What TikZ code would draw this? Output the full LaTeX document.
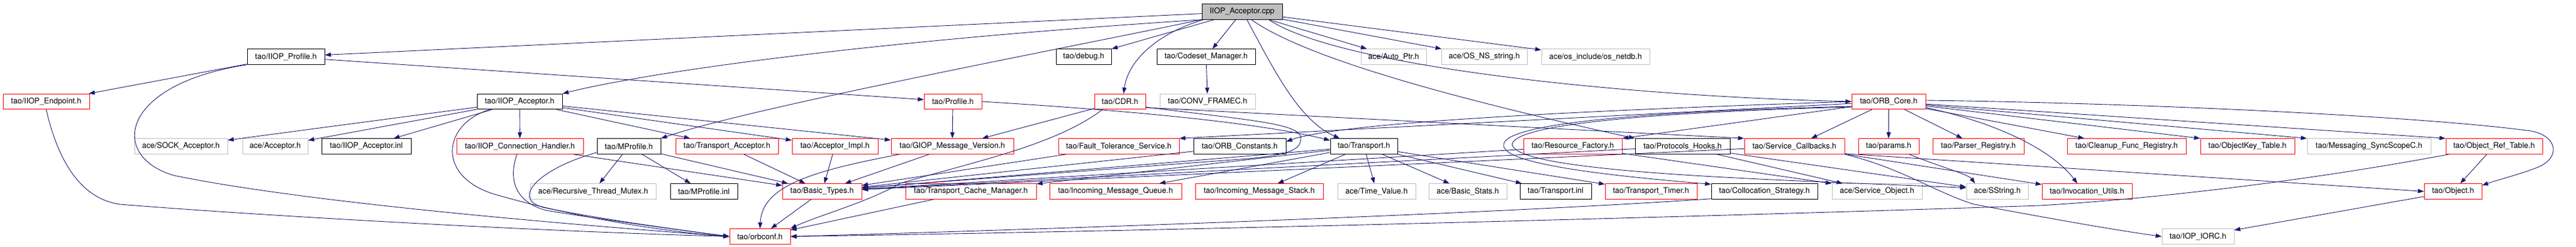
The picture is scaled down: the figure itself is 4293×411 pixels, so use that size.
\documentclass[tikz,border=0pt]{standalone}
\usepackage{fontspec}
\setmainfont{TeX Gyre Heros}
\usetikzlibrary{arrows.meta}
\usetikzlibrary{calc}
\definecolor{edgeBlue}{RGB}{25,25,112}
\definecolor{boxGray}{RGB}{191,191,191}
%% A file box: style, name, left, right, row, label.
\newcommand{\fileNode}[6]{%%
  \node[#1,minimum width={(#4-#3)*1pt}] (#2) at ({(#3+#4)/2},#5) {#6};
}
\begin{document}
\begin{tikzpicture}[%%
  x=1pt,y=-1pt,%%
  fileStyle/.style={draw=black,line width=1pt,inner sep=0pt,minimum height=25.5pt,font=\fontsize{13}{15}\selectfont},%%
  mainStyle/.style={fileStyle,fill=boxGray},%%
  truncStyle/.style={fileStyle,draw=red},%%
  extStyle/.style={fileStyle,draw=boxGray},%%
  includeStyle/.style={draw=edgeBlue,line width=0.9pt,-{Triangle[length=10pt,width=7pt]}}
]
\useasboundingbox (0,0) rectangle (4293,411);
%%
%%
\pgfmathsetmacro{\rowTop}{19.5}
\pgfmathsetmacro{\rowOne}{94.5}
\pgfmathsetmacro{\rowTwo}{169}
\pgfmathsetmacro{\rowThree}{243.5}
\pgfmathsetmacro{\rowFour}{318.5}
\pgfmathsetmacro{\rowFive}{393.5}
%% The file itself.
\fileNode{mainStyle}{cppFile}{2003}{2137}{\rowTop}{IIOP\_Acceptor.cpp}
%% First level.
\fileNode{fileStyle}{iiopProfile}{412}{541}{\rowOne}{tao/IIOP\_Profile.h}
\fileNode{fileStyle}{debugH}{1760}{1852}{\rowOne}{tao/debug.h}
\fileNode{fileStyle}{codesetMgr}{1928}{2092}{\rowOne}{tao/Codeset\_Manager.h}
\fileNode{extStyle}{autoPtr}{2268}{2377}{\rowOne}{ace/Auto\_Ptr.h}
\fileNode{extStyle}{osNsString}{2402}{2545}{\rowOne}{ace/OS\_NS\_string.h}
\fileNode{extStyle}{osNetdb}{2569}{2749}{\rowOne}{ace/os\_include/os\_netdb.h}
%% Second level.
\fileNode{truncStyle}{iiopEndpoint}{5}{149}{\rowTwo}{tao/IIOP\_Endpoint.h}
\fileNode{fileStyle}{iiopAcceptor}{795}{937}{\rowTwo}{tao/IIOP\_Acceptor.h}
\fileNode{truncStyle}{profileH}{1540}{1636}{\rowTwo}{tao/Profile.h}
\fileNode{truncStyle}{cdrH}{1824}{1909}{\rowTwo}{tao/CDR.h}
\fileNode{extStyle}{convFramec}{1933}{2092}{\rowTwo}{tao/CONV\_FRAMEC.h}
\fileNode{truncStyle}{orbCore}{3086}{3209}{\rowTwo}{tao/ORB\_Core.h}
%% Third level.
\fileNode{extStyle}{sockAcceptor}{224}{379}{\rowThree}{ace/SOCK\_Acceptor.h}
\fileNode{extStyle}{aceAcceptor}{404}{513}{\rowThree}{ace/Acceptor.h}
\fileNode{fileStyle}{iiopAcceptorInl}{536}{685}{\rowThree}{tao/IIOP\_Acceptor.inl}
\fileNode{truncStyle}{iiopConnHandler}{761}{972}{\rowThree}{tao/IIOP\_Connection\_Handler.h}
\fileNode{fileStyle}{mProfile}{995}{1101}{\rowThree}{tao/MProfile.h}
\fileNode{truncStyle}{transportAcceptor}{1126}{1297}{\rowThree}{tao/Transport\_Acceptor.h}
\fileNode{truncStyle}{acceptorImpl}{1320}{1463}{\rowThree}{tao/Acceptor\_Impl.h}
\fileNode{truncStyle}{giopVersion}{1485}{1689}{\rowThree}{tao/GIOP\_Message\_Version.h}
\fileNode{truncStyle}{ftService}{1764}{1965}{\rowThree}{tao/Fault\_Tolerance\_Service.h}
\fileNode{fileStyle}{orbConstants}{1989}{2143}{\rowThree}{tao/ORB\_Constants.h}
\fileNode{fileStyle}{transportH}{2217}{2329}{\rowThree}{tao/Transport.h}
\fileNode{truncStyle}{resourceFactory}{2539}{2703}{\rowThree}{tao/Resource\_Factory.h}
\fileNode{fileStyle}{protocolsHooks}{2725}{2883}{\rowThree}{tao/Protocols\_Hooks.h}
\fileNode{truncStyle}{serviceCallbacks}{2907}{3074}{\rowThree}{tao/Service\_Callbacks.h}
\fileNode{truncStyle}{paramsH}{3097}{3198}{\rowThree}{tao/params.h}
\fileNode{truncStyle}{parserRegistry}{3221}{3373}{\rowThree}{tao/Parser\_Registry.h}
\fileNode{truncStyle}{cleanupRegistry}{3445}{3643}{\rowThree}{tao/Cleanup\_Func\_Registry.h}
\fileNode{truncStyle}{objectKeyTable}{3667}{3824}{\rowThree}{tao/ObjectKey\_Table.h}
\fileNode{extStyle}{syncScope}{3845}{4051}{\rowThree}{tao/Messaging\_SyncScopeC.h}
\fileNode{truncStyle}{objectRefTable}{4076}{4237}{\rowThree}{tao/Object\_Ref\_Table.h}
%% Fourth level.
\fileNode{extStyle}{recursiveMutex}{884}{1093}{\rowFour}{ace/Recursive\_Thread\_Mutex.h}
\fileNode{fileStyle}{mProfileInl}{1117}{1229}{\rowFour}{tao/MProfile.inl}
\fileNode{truncStyle}{basicTypes}{1304}{1436}{\rowFour}{tao/Basic\_Types.h}
\fileNode{truncStyle}{cacheManager}{1509}{1727}{\rowFour}{tao/Transport\_Cache\_Manager.h}
\fileNode{truncStyle}{msgQueue}{1749}{1969}{\rowFour}{tao/Incoming\_Message\_Queue.h}
\fileNode{truncStyle}{msgStack}{1992}{2205}{\rowFour}{tao/Incoming\_Message\_Stack.h}
\fileNode{extStyle}{timeValue}{2229}{2359}{\rowFour}{ace/Time\_Value.h}
\fileNode{extStyle}{basicStats}{2381}{2511}{\rowFour}{ace/Basic\_Stats.h}
\fileNode{fileStyle}{transportInl}{2533}{2652}{\rowFour}{tao/Transport.inl}
\fileNode{truncStyle}{transportTimer}{2675}{2828}{\rowFour}{tao/Transport\_Timer.h}
\fileNode{fileStyle}{collocStrategy}{2852}{3029}{\rowFour}{tao/Collocation\_Strategy.h}
\fileNode{extStyle}{serviceObject}{3053}{3203}{\rowFour}{ace/Service\_Object.h}
\fileNode{extStyle}{sString}{3277}{3380}{\rowFour}{ace/SString.h}
\fileNode{truncStyle}{invocationUtils}{3403}{3553}{\rowFour}{tao/Invocation\_Utils.h}
\fileNode{truncStyle}{objectH}{4040}{4136}{\rowFour}{tao/Object.h}
%% Bottom level.
\fileNode{truncStyle}{orbConf}{1216}{1317}{\rowFive}{tao/orbconf.h}
\fileNode{extStyle}{iopIorc}{3603}{3723}{\rowFive}{tao/IOP\_IORC.h}
%%
%%
%% Includes of the file itself.
\draw[includeStyle] (cppFile) -- (iiopProfile);
\draw[includeStyle] (cppFile.south west) .. controls (1450,68) and (1080,120) .. (iiopAcceptor.north east);
\draw[includeStyle] (cppFile.south west) .. controls (1700,95) and (1250,180) .. (mProfile.north east);
\draw[includeStyle] (cppFile) -- (debugH);
\draw[includeStyle] ($(cppFile.south west)+(3,0)$) .. controls (1930,55) and (1880,100) .. ($(cdrH.north)+(6,0)$);
\draw[includeStyle] (cppFile) -- (codesetMgr);
\draw[includeStyle] ($(cppFile.south)+(8,0)$) .. controls (2125,120) and (2165,200) .. ($(transportH.north west)+(16,0)$);
\draw[includeStyle] (cppFile) -- (autoPtr);
\draw[includeStyle] (cppFile) -- (osNsString);
\draw[includeStyle] (cppFile) -- (osNetdb);
\draw[includeStyle] ($(cppFile.south east)+(-23,0)$) .. controls (2230,110) and (2700,160) .. (orbCore.west);
\draw[includeStyle] ($(cppFile.south east)+(-52,0)$) .. controls (2180,100) and (2450,170) .. (protocolsHooks.north west);
%% IIOP profile and endpoint.
\draw[includeStyle] (iiopProfile) -- (iiopEndpoint);
\draw[includeStyle] (iiopProfile) -- (profileH);
\draw[includeStyle] (iiopProfile.south west) .. controls (200,140) and (180,260) .. (290,292) .. controls (500,335) and (900,370) .. (orbConf.west);
\draw[includeStyle] (iiopEndpoint.south) .. controls (95,260) and (130,330) .. (200,340) .. controls (450,360) and (900,385) .. (orbConf.west);
%% IIOP acceptor header.
\draw[includeStyle] (iiopAcceptor) -- (sockAcceptor);
\draw[includeStyle] (iiopAcceptor) -- (aceAcceptor);
\draw[includeStyle] (iiopAcceptor) -- (iiopAcceptorInl);
\draw[includeStyle] (iiopAcceptor) -- (iiopConnHandler);
\draw[includeStyle] ($(iiopAcceptor.south west)+(22,0)$) .. controls (740,205) and (725,290) .. (820,322) .. controls (950,360) and (1100,385) .. (orbConf.west);
\draw[includeStyle] (iiopAcceptor) -- (transportAcceptor);
\draw[includeStyle] (iiopAcceptor) -- (acceptorImpl);
\draw[includeStyle] (iiopAcceptor) -- (giopVersion);
\draw[includeStyle] (iiopConnHandler) -- (basicTypes);
\draw[includeStyle] ($(iiopConnHandler.south)+(-5,0)$) .. controls (848,295) and (855,335) .. (910,350) .. controls (1000,365) and (1150,385) .. (orbConf.west);
%% Multiple profiles.
\draw[includeStyle] (mProfile) -- (recursiveMutex);
\draw[includeStyle] (mProfile) -- (mProfileInl);
\draw[includeStyle] (mProfile) -- (basicTypes);
\draw[includeStyle] ($(mProfile.south west)+(0,-3)$) .. controls (900,280) and (850,330) .. (905,345) .. controls (1000,365) and (1150,385) .. (orbConf.west);
\draw[includeStyle] (transportAcceptor) -- (basicTypes);
\draw[includeStyle] (acceptorImpl) -- (basicTypes);
\draw[includeStyle] (giopVersion) -- (basicTypes);
\draw[includeStyle] ($(giopVersion.south west)+(15,0)$) .. controls (1350,285) and (1270,310) .. (orbConf.north);
%% Profile and CDR.
\draw[includeStyle] (profileH) -- (giopVersion);
\draw[includeStyle] (profileH.east) .. controls (1900,185) and (2100,205) .. ($(transportH.west)+(0,-10)$);
\draw[includeStyle] (cdrH) -- (giopVersion);
\draw[includeStyle] ($(cdrH.south west)+(14,0)$) .. controls (1760,240) and (1640,265) .. (1500,305) .. controls (1450,335) and (1360,360) .. (orbConf.north east);
\draw[includeStyle] ($(cdrH.south east)+(0,-4)$) .. controls (2080,200) and (2168,205) .. (2168,230) .. controls (2168,252) and (2140,258) .. (2080,264) .. controls (1800,285) and (1600,300) .. ($(basicTypes.east)+(0,-6)$);
\draw[includeStyle] ($(cdrH.east)+(0,10)$) -- (serviceCallbacks.north west);
\draw[includeStyle] (codesetMgr) -- (convFramec);
%% Into the basic types.
\draw[includeStyle] (ftService) -- (basicTypes);
\draw[includeStyle] (orbConstants) -- (basicTypes);
\draw[includeStyle] (transportH) -- (basicTypes);
\draw[includeStyle] (resourceFactory) -- (basicTypes);
\draw[includeStyle] (protocolsHooks) -- (basicTypes);
\draw[includeStyle] (serviceCallbacks) -- (basicTypes);
%% Transport.
\draw[includeStyle] (transportH) -- (cacheManager);
\draw[includeStyle] (transportH) -- (msgQueue);
\draw[includeStyle] (transportH) -- (msgStack);
\draw[includeStyle] (transportH) -- (timeValue);
\draw[includeStyle] (transportH) -- (basicStats);
\draw[includeStyle] (transportH) -- (transportInl);
\draw[includeStyle] (transportH) -- (transportTimer);
%% Factories, hooks and callbacks.
\draw[includeStyle] (resourceFactory) -- (serviceObject.north west);
\draw[includeStyle] (protocolsHooks) -- (serviceObject);
\draw[includeStyle] (protocolsHooks) -- (sString);
\draw[includeStyle] ($(serviceCallbacks.south east)+(0,-1)$) -- (objectH.west);
\draw[includeStyle] (serviceCallbacks.south east) .. controls (3170,280) and (3225,320) .. (3290,340) .. controls (3450,370) and (3540,385) .. (iopIorc.west);
\draw[includeStyle] (serviceCallbacks) -- (invocationUtils);
%% ORB core.
\draw[includeStyle] (orbCore) -- (ftService.north east);
\draw[includeStyle] (orbCore.west) .. controls (2600,185) and (2230,205) .. ($(orbConstants.east)+(0,-8)$);
\draw[includeStyle] (orbCore) -- (resourceFactory.north east);
\draw[includeStyle] (orbCore) -- (serviceCallbacks);
\draw[includeStyle] (orbCore) -- (paramsH);
\draw[includeStyle] (orbCore) -- (parserRegistry);
\draw[includeStyle] (orbCore) -- (cleanupRegistry);
\draw[includeStyle] ($(orbCore.east)+(0,10)$) .. controls (3330,205) and (3420,250) .. ($(invocationUtils.north)+(-16,0)$);
\draw[includeStyle] (orbCore) -- (objectKeyTable.north west);
\draw[includeStyle] (orbCore) -- (syncScope.north west);
\draw[includeStyle] (orbCore) -- (objectRefTable.north west);
\draw[includeStyle] ($(orbCore.east)+(0,-2)$) .. controls (3600,172) and (4050,195) .. (4218,218) .. controls (4262,226) and (4268,262) .. (4230,278) .. controls (4200,290) and (4160,300) .. ($(objectH.east)+(0,-10)$);
\draw[includeStyle] ($(orbCore.west)+(0,8)$) .. controls (2750,185) and (2510,205) .. (2506,240) .. controls (2500,270) and (2650,290) .. ($(collocStrategy.west)+(0,-12)$);
\draw[includeStyle] ($(orbCore.west)+(0,9)$) .. controls (2780,186) and (2525,205) .. (2520,240) .. controls (2525,290) and (3000,300) .. ($(sString.west)+(0,-6)$);
\draw[includeStyle] ($(paramsH.south east)+(-17,0)$) .. controls (3240,280) and (3280,290) .. ($(sString.north)+(-37,0)$);
%% Object tables.
\draw[includeStyle] (objectRefTable) -- (objectH);
\draw[includeStyle] ($(objectRefTable.south west)+(6,0)$) .. controls (3850,300) and (3600,330) .. (3400,342) .. controls (2800,362) and (1900,385) .. (orbConf.east);
\draw[includeStyle] ($(collocStrategy.south west)+(0,-1)$) .. controls (2500,355) and (1800,380) .. (orbConf.east);
\draw[includeStyle] (objectH) -- (iopIorc);
%% Into the configuration.
\draw[includeStyle] (cacheManager) -- (orbConf);
\draw[includeStyle] (basicTypes) -- (orbConf);
\end{tikzpicture}
\end{document}
